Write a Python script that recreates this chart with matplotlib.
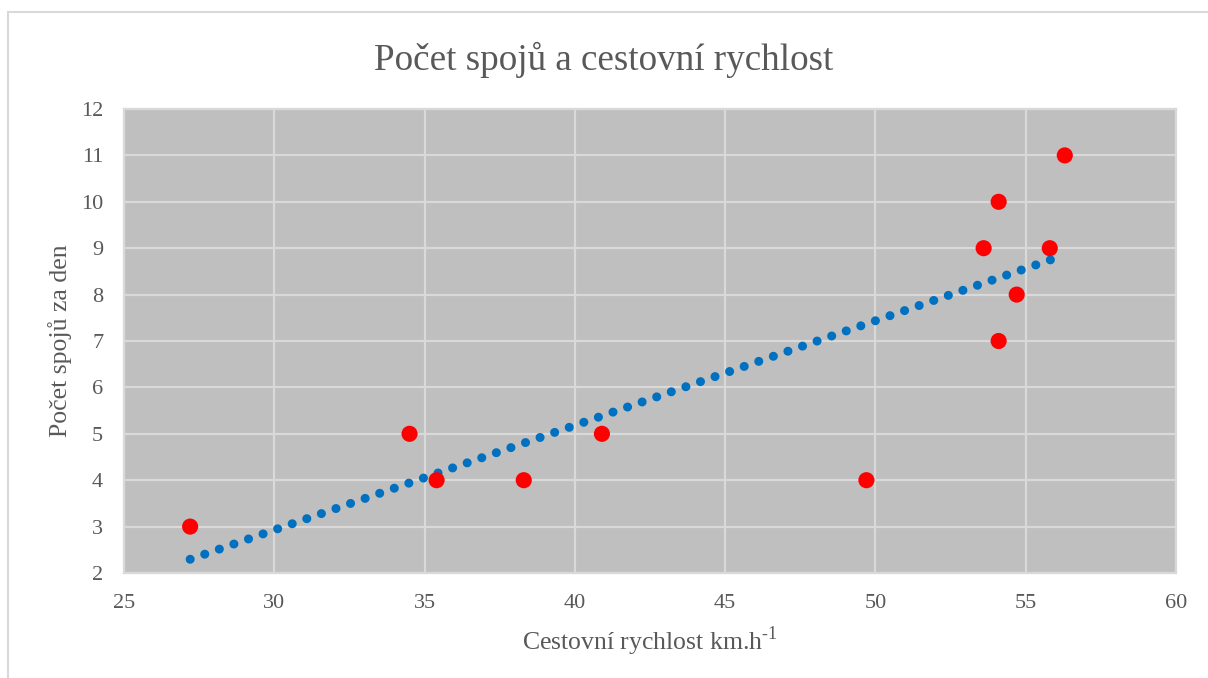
import numpy as np
import matplotlib.pyplot as plt
from matplotlib.patches import Rectangle

# data
rychlost = [27.2, 34.5, 35.4, 38.3, 40.9, 49.7, 53.6, 54.1, 54.1, 54.7, 55.8, 56.3]
spoje = [3, 5, 4, 4, 5, 4, 9, 10, 7, 8, 9, 11]
x_ticks = [25, 30, 35, 40, 45, 50, 55, 60]
y_ticks = [2, 3, 4, 5, 6, 7, 8, 9, 10, 11, 12]

plt.rcParams['font.family'] = ['Liberation Serif', 'DejaVu Serif']
plt.rcParams['mathtext.fontset'] = 'custom'
plt.rcParams['mathtext.rm'] = 'Liberation Serif'
text_col = '#595959'
grid_col = '#d9d9d9'

fig = plt.figure(figsize=(12.08, 6.78), dpi=100)
ax = fig.add_axes([124/1208, 1 - 573/678, (1176 - 124)/1208, (573 - 109)/678])
ax.set_facecolor('#bfbfbf')

# linear trendline over the data range
k, q = np.polyfit(rychlost, spoje, 1)
xt = np.array([min(rychlost), max(rychlost)])
ax.plot(xt, k * xt + q, color='#0070c0', lw=6.5,
        linestyle=(0, (0.01, 1.7)), dash_capstyle='round', zorder=3)

ax.scatter(rychlost, spoje, s=135, color='#ff0000', edgecolors='none', zorder=4)

ax.set_xlim(25, 60)
ax.set_ylim(2, 12)
ax.set_xticks(x_ticks)
ax.set_yticks(y_ticks)
ax.grid(True, color=grid_col, lw=1.6)
ax.set_axisbelow(True)
for s in ax.spines.values():
    s.set_color(grid_col)
    s.set_linewidth(1.6)
ax.tick_params(length=0, labelsize=16, colors=text_col, pad=15)

ax.set_xlabel(r'Cestovní rychlost km.h$^{\text{-1}}$', fontsize=18.5, color=text_col,
              ha='center', va='center')
ax.set_ylabel('Počet spojů za den', fontsize=18.5, color=text_col,
              ha='center', va='center')
ax.xaxis.set_label_coords(0.5, (573 - 641) / 464)
ax.yaxis.set_label_coords((60 - 124) / 1052, 0.5)

fig.text(0.5, 1 - 60/678, 'Počet spojů a cestovní rychlost', ha='center', va='center',
         fontsize=26.7, color=text_col)

# chart frame
fig.patches.append(Rectangle((8/1208, -0.1), 1.5, 1.1 - 12/678, transform=fig.transFigure,
                             fill=False, ec=grid_col, lw=1.5))

fig.savefig('out.png', dpi=100)
